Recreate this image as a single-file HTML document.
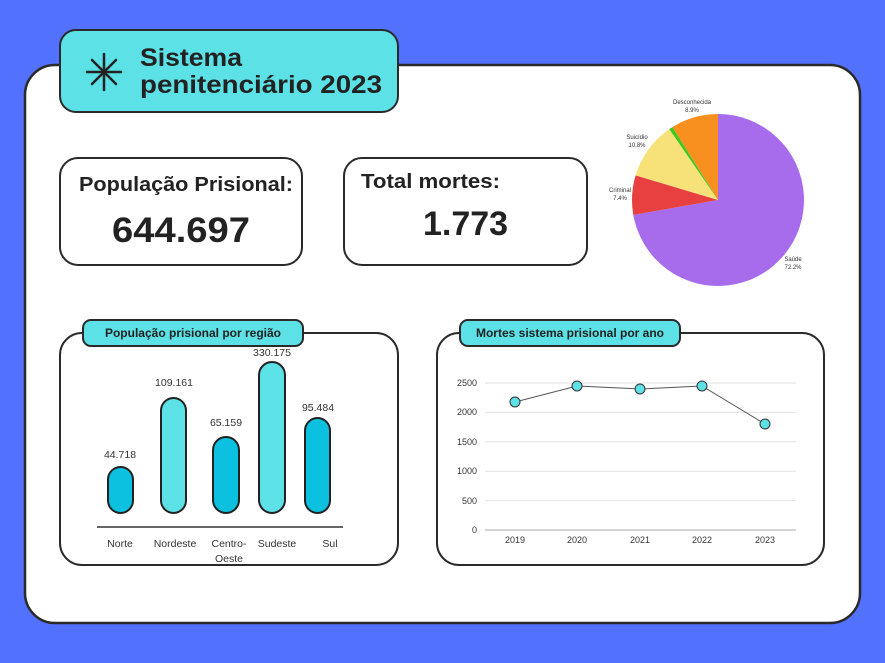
<!DOCTYPE html>
<html><head><meta charset="utf-8"><style>
html,body{margin:0;padding:0;background:#5271FF;}
svg{display:block;font-family:"Liberation Sans",sans-serif;}
</style></head><body>
<svg width="885" height="663" viewBox="0 0 885 663" xmlns="http://www.w3.org/2000/svg">
<rect width="885" height="663" fill="#5271FF"/>
<rect x="25" y="65" width="835" height="558" rx="30" fill="#fff" stroke="#2a2a2a" stroke-width="2.5"/>
<!-- title -->
<rect x="60" y="30" width="338" height="82" rx="16" fill="#5CE1E6" stroke="#2a2a2a" stroke-width="2"/>
<g stroke="#222" stroke-width="2.5" stroke-linecap="round">
<line x1="104" y1="54" x2="104" y2="90"/><line x1="87" y1="72" x2="121" y2="72"/>
<line x1="92" y1="60" x2="116" y2="84"/><line x1="116" y1="60" x2="92" y2="84"/></g>
<text x="140" y="66" font-size="25" font-weight="bold" fill="#222" textLength="102" lengthAdjust="spacingAndGlyphs">Sistema</text>
<text x="140" y="93" font-size="25" font-weight="bold" fill="#222" textLength="242" lengthAdjust="spacingAndGlyphs">penitenciário 2023</text>
<!-- boxes -->
<rect x="60" y="158" width="242" height="107" rx="18" fill="#fff" stroke="#2a2a2a" stroke-width="2"/>
<text x="79" y="191" font-size="20" font-weight="bold" fill="#222" textLength="214" lengthAdjust="spacingAndGlyphs">População Prisional:</text>
<text x="112" y="242" font-size="35" font-weight="bold" fill="#222" textLength="138" lengthAdjust="spacingAndGlyphs">644.697</text>
<rect x="344" y="158" width="243" height="107" rx="18" fill="#fff" stroke="#2a2a2a" stroke-width="2"/>
<text x="361" y="188" font-size="20" font-weight="bold" fill="#222" textLength="139" lengthAdjust="spacingAndGlyphs">Total mortes:</text>
<text x="423" y="235" font-size="34" font-weight="bold" fill="#222" textLength="85" lengthAdjust="spacingAndGlyphs">1.773</text>
<!-- pie -->
<path d="M718 200 L718 114 A86 86 0 1 1 633.3 214.9 Z" fill="#A66CEC"/>
<path d="M718 200 L633.3 214.9 A86 86 0 0 1 635.6 175.4 Z" fill="#E84040"/>
<path d="M718 200 L635.6 175.4 A86 86 0 0 1 669.3 129.1 Z" fill="#F7E27A"/>
<path d="M718 200 L669.3 129.1 A86 86 0 0 1 672.4 127.1 Z" fill="#3DC81E"/>
<path d="M718 200 L672.4 127.1 A86 86 0 0 1 718 114 Z" fill="#F7901E"/>
<g font-size="6" fill="#333" text-anchor="middle">
<text x="692" y="104">Desconhecida</text><text x="692" y="112">8.9%</text>
<text x="637" y="139">Suicídio</text><text x="637" y="147">10.8%</text>
<text x="620" y="192">Criminal</text><text x="620" y="200">7.4%</text>
<text x="793" y="261">Saúde</text><text x="793" y="269">72.2%</text></g>
<!-- bar chart -->
<rect x="60" y="333" width="338" height="232" rx="22" fill="#fff" stroke="#2a2a2a" stroke-width="2"/>
<rect x="83" y="320" width="220" height="26" rx="8" fill="#5CE1E6" stroke="#2a2a2a" stroke-width="2"/>
<text x="193" y="337" font-size="12" font-weight="bold" fill="#222" text-anchor="middle">População prisional por região</text>
<g stroke="#222" stroke-width="2">
<rect x="108" y="467" width="25" height="46" rx="12.5" fill="#0CC0DF"/>
<rect x="161" y="398" width="25" height="115" rx="12.5" fill="#5CE1E6"/>
<rect x="213" y="437" width="26" height="76" rx="13" fill="#0CC0DF"/>
<rect x="259" y="362" width="26" height="151" rx="13" fill="#5CE1E6"/>
<rect x="305" y="418" width="25" height="95" rx="12.5" fill="#0CC0DF"/>
</g>
<line x1="97" y1="527" x2="343" y2="527" stroke="#333" stroke-width="1.5"/>
<g font-size="10.5" fill="#333" text-anchor="middle">
<text x="120" y="458">44.718</text><text x="174" y="386">109.161</text>
<text x="226" y="426">65.159</text><text x="272" y="356">330.175</text><text x="318" y="411">95.484</text>
<text x="120" y="547">Norte</text><text x="175" y="547">Nordeste</text>
<text x="229" y="547">Centro-</text><text x="229" y="562">Oeste</text>
<text x="277" y="547">Sudeste</text><text x="330" y="547">Sul</text></g>
<!-- line chart -->
<rect x="437" y="333" width="387" height="232" rx="22" fill="#fff" stroke="#2a2a2a" stroke-width="2"/>
<rect x="460" y="320" width="220" height="26" rx="8" fill="#5CE1E6" stroke="#2a2a2a" stroke-width="2"/>
<text x="570" y="337" font-size="12" font-weight="bold" fill="#222" text-anchor="middle">Mortes sistema prisional por ano</text>
<g stroke="#e2e2e2" stroke-width="1">
<line x1="485" y1="383" x2="796" y2="383"/><line x1="485" y1="412.4" x2="796" y2="412.4"/>
<line x1="485" y1="441.8" x2="796" y2="441.8"/><line x1="485" y1="471.2" x2="796" y2="471.2"/>
<line x1="485" y1="500.6" x2="796" y2="500.6"/></g>
<line x1="485" y1="530" x2="796" y2="530" stroke="#aaa" stroke-width="1"/>
<g font-size="9" fill="#333" text-anchor="end">
<text x="477" y="386">2500</text><text x="477" y="415">2000</text><text x="477" y="445">1500</text>
<text x="477" y="474">1000</text><text x="477" y="504">500</text><text x="477" y="533">0</text></g>
<g font-size="9" fill="#333" text-anchor="middle">
<text x="515" y="543">2019</text><text x="577" y="543">2020</text><text x="640" y="543">2021</text>
<text x="702" y="543">2022</text><text x="765" y="543">2023</text></g>
<polyline points="515,402 577,386 640,389 702,386 765,424" fill="none" stroke="#555" stroke-width="1"/>
<g fill="#5CE1E6" stroke="#333" stroke-width="1">
<circle cx="515" cy="402" r="5"/><circle cx="577" cy="386" r="5"/><circle cx="640" cy="389" r="5"/>
<circle cx="702" cy="386" r="5"/><circle cx="765" cy="424" r="5"/></g>
</svg>
</body></html>
